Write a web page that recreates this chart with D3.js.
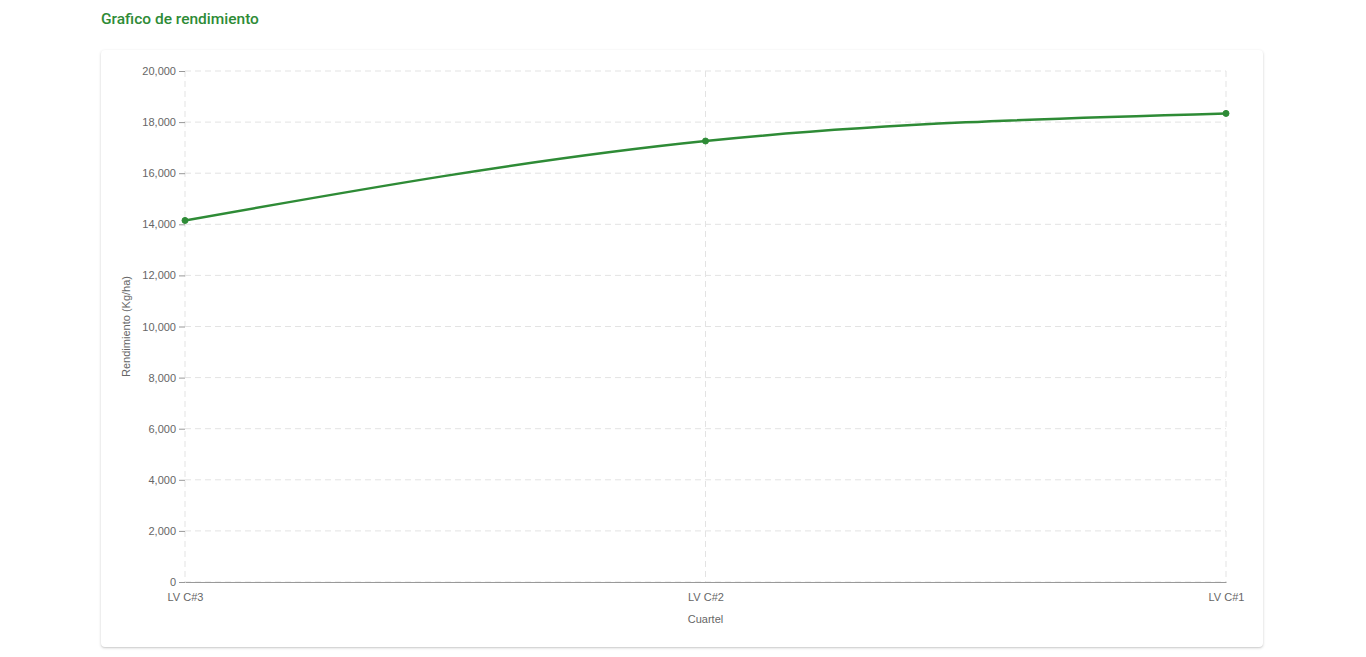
<!DOCTYPE html>
<html><head><meta charset="utf-8">
<script src="https://cdn.jsdelivr.net/npm/d3@7"></script>
<style>
html,body{margin:0;padding:0;background:#fff;font-family:Roboto,"Noto Sans",Arial,sans-serif;}
#title{position:absolute;left:101px;top:10px;font-size:15.5px;font-weight:500;color:#2e8b36;}
#card{position:absolute;left:101px;top:50px;width:1162px;height:597px;background:#fff;border-radius:4px;
box-shadow:0 1px 3px rgba(0,0,0,0.18),0 1px 1px rgba(0,0,0,0.06);}
svg{position:absolute;left:0;top:0;}
svg text{font-family:"Liberation Sans",Arial,sans-serif;}
</style></head>
<body>
<div id="title">Grafico de rendimiento</div>
<div id="card"></div>
<svg id="chart" width="1366" height="657"></svg>
<script>
const categories = ["LV C#3", "LV C#2", "LV C#1"];
const rendimiento = [14150, 17260, 18340];
const yTicks = [0, 2000, 4000, 6000, 8000, 10000, 12000, 14000, 16000, 18000, 20000];
const xLabel = "Cuartel";
const yLabel = "Rendimiento (Kg/ha)";

const svg = d3.select("#chart");
const L = 185, R = 1226, T = 71, B = 582;
const x = d3.scalePoint().domain(categories).range([L, R]);
const y = d3.scaleLinear().domain([0, 20000]).range([B, T]);
const fmt = d3.format(",");
const FONT = '"Liberation Sans", Arial, sans-serif';

const grid = svg.append("g");
grid.selectAll("line.h").data(yTicks).join("line")
  .attr("x1", L).attr("x2", R).attr("y1", d => y(d)).attr("y2", d => y(d))
  .attr("stroke", "#e3e3e3").attr("stroke-dasharray", "6 4");
grid.selectAll("line.v").data(categories).join("line")
  .attr("x1", d => x(d)).attr("x2", d => x(d)).attr("y1", T).attr("y2", B)
  .attr("stroke", "#e3e3e3").attr("stroke-dasharray", "6 4");

const ya = svg.append("g").attr("transform", `translate(${L},0)`)
  .call(d3.axisLeft(y).tickValues(yTicks).tickFormat(fmt).tickSize(6).tickPadding(3));
ya.select(".domain").remove();
ya.selectAll("line").attr("stroke", "#999");
ya.selectAll("text").attr("fill", "#666").style("font-size", "11px").style("font-family", FONT);

const xa = svg.append("g").attr("transform", `translate(0,${B})`)
  .call(d3.axisBottom(x).tickSize(0).tickPadding(11));
xa.select(".domain").attr("stroke", "#999");
xa.selectAll("text").attr("fill", "#666").style("font-size", "11px").style("font-family", FONT);

svg.append("text").attr("x", (L + R) / 2).attr("y", 623).attr("text-anchor", "middle")
  .attr("fill", "#666").style("font-size", "11px").style("font-family", FONT).text(xLabel);
svg.append("text").attr("transform", `translate(130,${(T + B) / 2}) rotate(-90)`).attr("text-anchor", "middle")
  .attr("fill", "#666").style("font-size", "11px").style("font-family", FONT).text(yLabel);

const data = categories.map((c, i) => ({c, v: rendimiento[i]}));
const line = d3.line().x(d => x(d.c)).y(d => y(d.v)).curve(d3.curveMonotoneX);
svg.append("path").datum(data).attr("d", line).attr("fill", "none")
  .attr("stroke", "#2e8b36").attr("stroke-width", 2.5);
svg.selectAll("circle.pt").data(data).join("circle")
  .attr("cx", d => x(d.c)).attr("cy", d => y(d.v)).attr("r", 3)
  .attr("fill", "#2e8b36").attr("stroke", "#2e8b36");
</script>
</body></html>
